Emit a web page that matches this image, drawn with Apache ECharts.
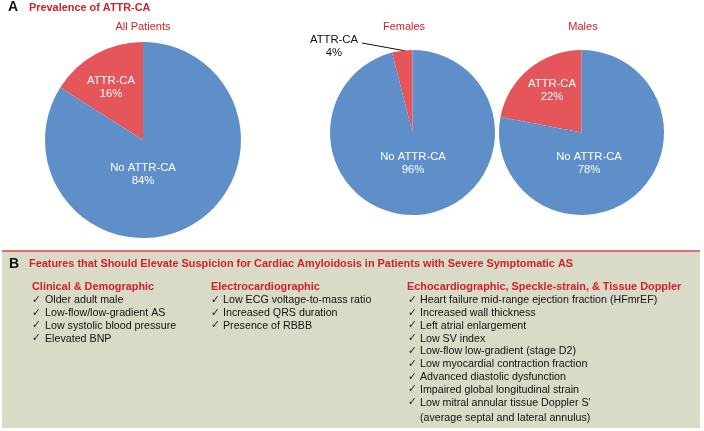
<!DOCTYPE html>
<html><head><meta charset="utf-8">
<script src="https://cdn.jsdelivr.net/npm/echarts@6/dist/echarts.min.js"></script>
<style>html,body{margin:0;padding:0;background:#fff}#c{width:704px;height:431px}</style>
</head><body><div id="c"></div>
<script>
// ---- data ----
const categories = ['ATTR-CA', 'No ATTR-CA'];
const groupTitles = ['All Patients', 'Females', 'Males'];
const allPatients = [16, 84];
const females = [4, 96];
const males = [22, 78];
const panelALetter = 'A';
const panelATitle = 'Prevalence of ATTR-CA';
const panelBLetter = 'B';
const panelBTitle = 'Features that Should Elevate Suspicion for Cardiac Amyloidosis in Patients with Severe Symptomatic AS';
const columnHeads = ['Clinical & Demographic', 'Electrocardiographic', 'Echocardiographic, Speckle-strain, & Tissue Doppler'];
const clinicalItems = ['Older adult male', 'Low-flow/low-gradient AS', 'Low systolic blood pressure', 'Elevated BNP'];
const ecgItems = ['Low ECG voltage-to-mass ratio', 'Increased QRS duration', 'Presence of RBBB'];
const echoItems = ['Heart failure mid-range ejection fraction (HFmrEF)', 'Increased wall thickness', 'Left atrial enlargement', 'Low SV index', 'Low-flow low-gradient (stage D2)', 'Low myocardial contraction fraction', 'Advanced diastolic dysfunction', 'Impaired global longitudinal strain', 'Low mitral annular tissue Doppler S\'\n(average septal and lateral annulus)'];

// ---- layout ----
const FONT = '"Liberation Sans", Arial, "DejaVu Sans", sans-serif';
const RED_TEXT = '#D4202C';
const SLICE_COLORS = ['#E4565A', '#5F8FC9'];
const pieLayout = [
  {center: [143, 140], r: 98, title: [143, 27],
   labels: [[111, 87, '#fff'], [143, 174, '#fff']]},
  {center: [412.5, 132.5], r: 82.5, title: [404, 27],
   labels: [[334, 46, '#111'], [413, 163, '#fff']]},
  {center: [581.5, 132.5], r: 82.5, title: [583, 27],
   labels: [[552, 90, '#fff'], [589, 163, '#fff']]}
];
const pieData = [allPatients, females, males];

const series = pieData.map((vals, si) => {
  const L = pieLayout[si];
  return {
    type: 'pie',
    center: L.center,
    radius: L.r,
    startAngle: 90,
    clockwise: false,
    silent: true,
    animation: false,
    itemStyle: {borderWidth: 0},
    label: {
      show: true, position: si === 1 ? 'outside' : 'inside',
      formatter: '{b}\n{c}%', fontFamily: FONT, fontSize: 11.3, lineHeight: 13,
      align: 'center'
    },
    labelLine: {show: si === 1, length: 8, length2: 8, lineStyle: {color: '#111', width: 1}},
    labelLayout: function (p) {
      const pos = L.labels[p.dataIndex];
      const o = {x: pos[0], y: pos[1], align: 'center', verticalAlign: 'middle'};
      if (si === 1 && p.dataIndex === 0) {
        o.labelLinePoints = [[pos[0] + 28, pos[1] - 3], [pos[0] + 50, pos[1] + 1], [pos[0] + 72, pos[1] + 5]];
      }
      return o;
    },
    data: vals.map((v, i) => ({
      name: categories[i], value: v,
      itemStyle: {color: SLICE_COLORS[i]},
      label: {color: L.labels[i][2], position: (si === 1 && i === 0) ? 'outside' : 'inside'},
      labelLine: {show: si === 1 && i === 0}
    }))
  };
});

const graphics = [];
function txt(text, x, y, font, fill, sx, extra) {
  graphics.push({type: 'text', x: x, y: y, scaleX: sx || 1,
    style: Object.assign({text: text, font: font, fill: fill, x: 0, y: 0, verticalAlign: 'middle'}, extra || {})});
}
// Panel A header
txt(panelALetter, 8, 7, 'bold 14px ' + FONT, '#111');
txt(panelATitle, 29, 7.5, 'bold 10.9px ' + FONT, RED_TEXT);
pieLayout.forEach((L, i) => {
  txt(groupTitles[i], L.title[0], L.title[1], '11px ' + FONT, RED_TEXT, 1, {align: 'center'});
});
// Panel B box
graphics.push({type: 'rect', shape: {x: 2, y: 251, width: 698, height: 177}, style: {fill: '#D9DBC6'}, z: -1});
graphics.push({type: 'line', shape: {x1: 2, y1: 251, x2: 700, y2: 251}, style: {stroke: '#D6484B', lineWidth: 1.5}});
txt(panelBLetter, 9, 264, 'bold 14px ' + FONT, '#111');
txt(panelBTitle, 29, 264, 'bold 10.9px ' + FONT, RED_TEXT);

const cols = [
  {head: 32, check: 32, text: 45, items: clinicalItems},
  {head: 211, check: 211, text: 223, items: ecgItems},
  {head: 407, check: 408, text: 420, items: echoItems}
];
const headY = 287, itemY0 = 300, step = 12.8;
cols.forEach((c, ci) => {
  txt(columnHeads[ci], c.head, headY, 'bold 11.4px ' + FONT, RED_TEXT, 0.955);
  let row = 0;
  c.items.forEach((it) => {
    const lines = it.split('\n');
    const y = itemY0 + row * step;
    txt('\u2713', c.check, y, '11px "DejaVu Sans", sans-serif', '#222', 0.95);
    lines.forEach((ln, li) => {
      txt(ln, c.text, y + li * 15, '11.8px ' + FONT, '#111', 0.905);
    });
    row += lines.length;
  });
});

const chart = echarts.init(document.getElementById('c'), null, {renderer: 'canvas'});
chart.setOption({
  backgroundColor: '#fff',
  animation: false,
  series: series,
  graphic: {elements: graphics}
});
</script>
</body></html>
